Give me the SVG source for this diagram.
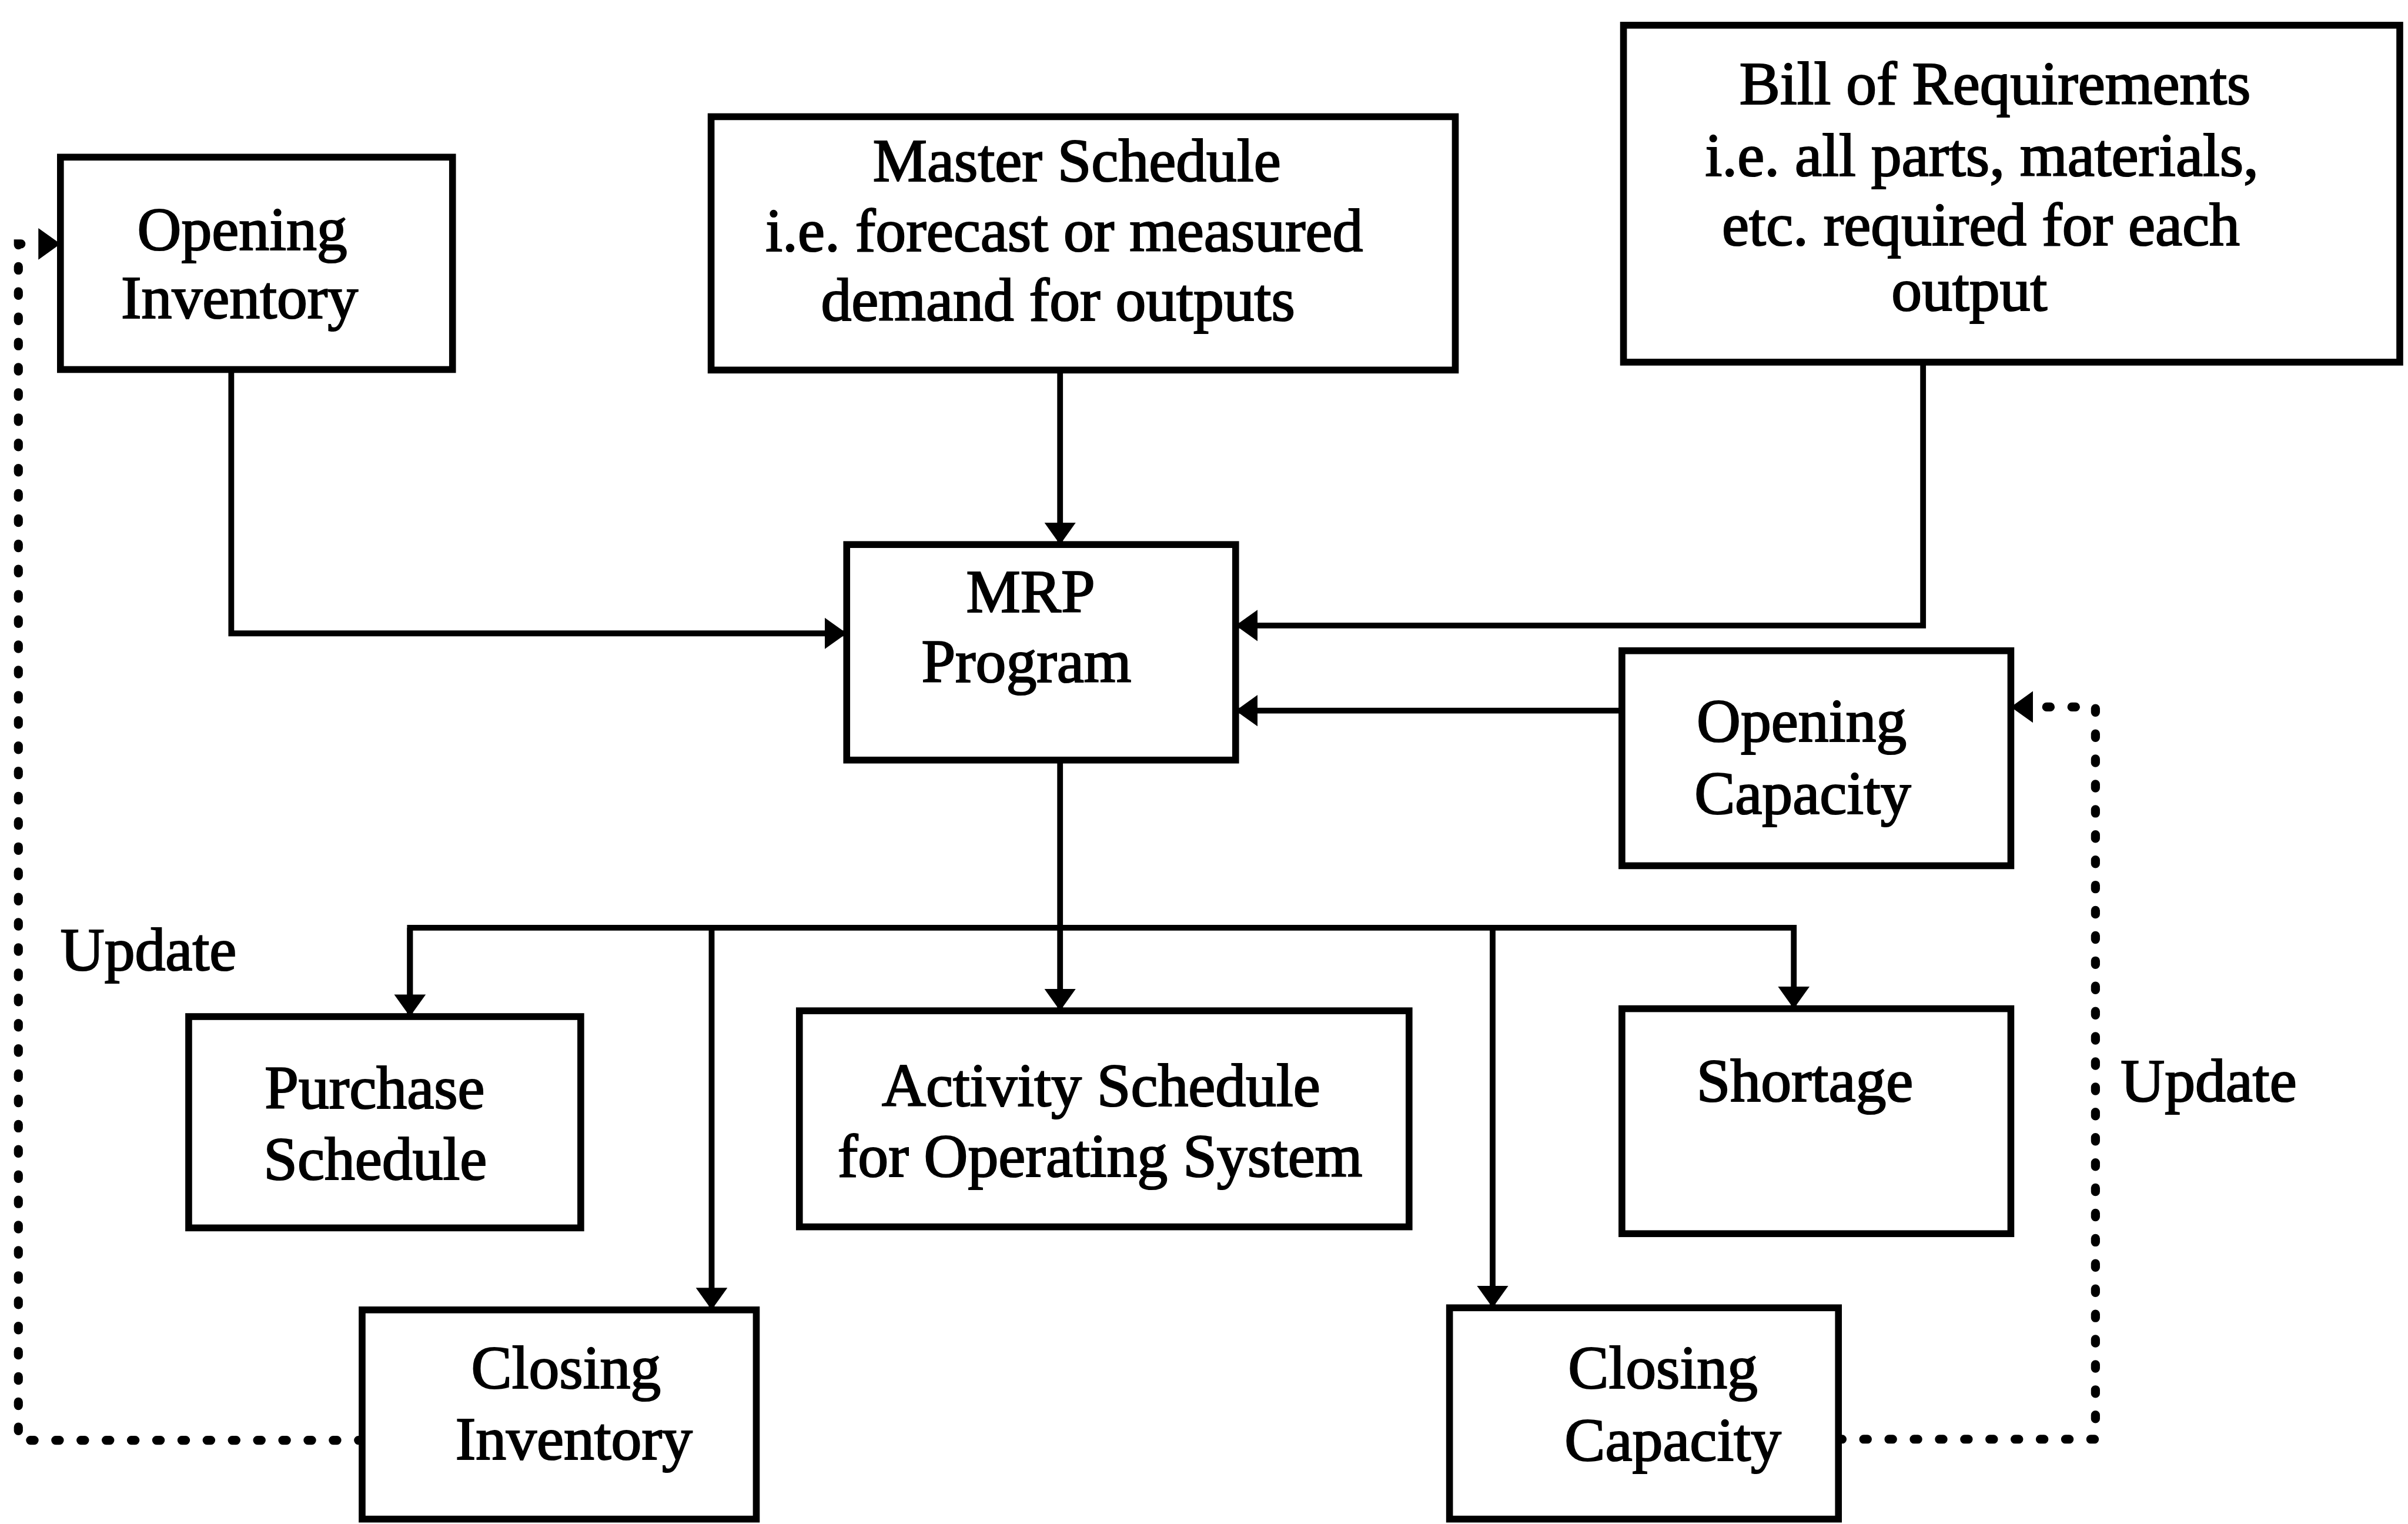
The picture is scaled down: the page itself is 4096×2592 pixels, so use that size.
<svg xmlns="http://www.w3.org/2000/svg" width="4096" height="2592" viewBox="0 0 4096 2592">
  <defs>
    <style>
      .box { fill: #ffffff; stroke: #000000; stroke-width: 13; }
      .lbl { font-family: "Liberation Serif", "Times New Roman", serif; font-size: 116px; fill: #000000; stroke: #000000; stroke-width: 2.5; text-anchor: middle; }
      .lbl-start { text-anchor: start; }
      .wire { fill: none; stroke: #000000; stroke-width: 11; stroke-linejoin: miter; }
      .dots { fill: none; stroke: #000000; stroke-width: 17; stroke-linecap: round; stroke-dasharray: 7 41; }
    </style>
    <marker id="arrow" markerUnits="userSpaceOnUse" markerWidth="44" markerHeight="62" refX="42" refY="30" orient="auto">
      <path d="M0,0 L42,30 L0,60 Z" fill="#000000"/>
    </marker>
  </defs>
  <rect x="0" y="0" width="4096" height="2592" fill="#ffffff"/>
  <g transform="scale(0.894)">
    <!-- connectors -->
    <g id="connectors">
      <!-- inputs into the MRP program -->
      <path class="wire" d="M440,703 V1205 H1611" marker-end="url(#arrow)"/>
      <path class="wire" d="M2017,704 V1036" marker-end="url(#arrow)"/>
      <path class="wire" d="M3659,689 V1190 H2351" marker-end="url(#arrow)"/>
      <path class="wire" d="M3086,1352 H2351" marker-end="url(#arrow)"/>
      <!-- outputs of the MRP program -->
      <path class="wire" d="M2017,1446 V1923" marker-end="url(#arrow)"/>
      <path class="wire" d="M780,1934 V1765 H3413 V1919" marker-end="url(#arrow)"/>
      <path class="wire" d="M780,1765 V1934" marker-end="url(#arrow)"/>
      <path class="wire" d="M1354,1765 V2492" marker-end="url(#arrow)"/>
      <path class="wire" d="M2840,1765 V2488" marker-end="url(#arrow)"/>
      <!-- update feedback loops -->
      <path class="dots" d="M689,2740 H35 V464 H76"/>
      <path class="wire" d="M76,464 H115" style="stroke-width:0" marker-end="url(#arrow)"/>
      <path class="dots" d="M3498,2738 H3987 V1345 H3870"/>
      <path class="wire" d="M3870,1345 H3826" style="stroke-width:0" marker-end="url(#arrow)"/>
    </g>

    <g id="opening-inventory">
      <rect class="box" x="115" y="299" width="746" height="404"/>
      <text class="lbl" x="461" y="475">Opening</text>
      <text class="lbl" x="456" y="605">Inventory</text>
    </g>

    <g id="master-schedule">
      <rect class="box" x="1353" y="222" width="1416" height="482"/>
      <text class="lbl" x="2049" y="345">Master Schedule</text>
      <text class="lbl" x="2025" y="478">i.e. forecast or measured</text>
      <text class="lbl" x="2013" y="610">demand for outputs</text>
    </g>

    <g id="bill-of-requirements">
      <rect class="box" x="3089" y="48" width="1477" height="641"/>
      <text class="lbl" x="3796" y="198">Bill of Requirements</text>
      <text class="lbl" x="3771" y="335">i.e. all parts, materials,</text>
      <text class="lbl" x="3769" y="466">etc. required for each</text>
      <text class="lbl" x="3747" y="591">output</text>
    </g>

    <g id="mrp-program">
      <rect class="box" x="1611" y="1036" width="740" height="410"/>
      <text class="lbl" x="1961" y="1164">MRP</text>
      <text class="lbl" x="1953" y="1297">Program</text>
    </g>

    <g id="opening-capacity">
      <rect class="box" x="3086" y="1238" width="740" height="409"/>
      <text class="lbl" x="3428" y="1410">Opening</text>
      <text class="lbl" x="3430" y="1548">Capacity</text>
    </g>

    <g id="purchase-schedule">
      <rect class="box" x="359" y="1934" width="746" height="402"/>
      <text class="lbl" x="713" y="2109">Purchase</text>
      <text class="lbl" x="714" y="2244">Schedule</text>
    </g>

    <g id="activity-schedule">
      <rect class="box" x="1521" y="1923" width="1160" height="411"/>
      <text class="lbl" x="2095" y="2104">Activity Schedule</text>
      <text class="lbl" x="2093" y="2238">for Operating System</text>
    </g>

    <g id="shortage">
      <rect class="box" x="3086" y="1919" width="740" height="428"/>
      <text class="lbl" x="3434" y="2095">Shortage</text>
    </g>

    <g id="closing-inventory">
      <rect class="box" x="689" y="2492" width="750" height="398"/>
      <text class="lbl" x="1077" y="2641">Closing</text>
      <text class="lbl" x="1092" y="2776">Inventory</text>
    </g>

    <g id="closing-capacity">
      <rect class="box" x="2758" y="2488" width="740" height="402"/>
      <text class="lbl" x="3164" y="2641">Closing</text>
      <text class="lbl" x="3183" y="2778">Capacity</text>
    </g>

    <g id="update-labels">
      <text class="lbl lbl-start" x="115" y="1846">Update</text>
      <text class="lbl lbl-start" x="4035" y="2095">Update</text>
    </g>
  </g>
</svg>
